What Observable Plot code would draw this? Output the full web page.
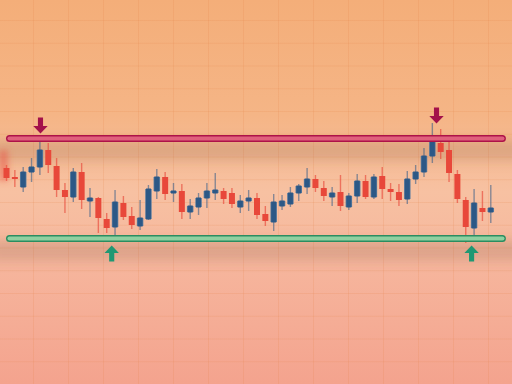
<!DOCTYPE html>
<html><head><meta charset="utf-8">
<script src="https://cdn.jsdelivr.net/npm/d3@7"></script>
<script src="https://cdn.jsdelivr.net/npm/@observablehq/plot@0.6"></script>
<style>
html,body{margin:0;padding:0;background:#f5b487;overflow:hidden;}
#chart svg{display:block;}
</style></head><body><div id="chart"></div>
<script>
// OHLC data (arbitrary price units)
const opens  = [114.0,112.2,110.2,113.2,114.2,117.6,114.4,109.6,108.2,113.2,107.4,108.0,103.8,102.2,107.0,104.4,102.4,103.8,109.4,112.2,109.0,109.4,105.2,106.2,108.0,109.0,109.4,109.0,106.2,107.4,108.0,104.8,103.2,106.4,106.8,109.0,110.2,111.8,110.0,108.2,109.2,106.2,108.4,111.4,108.2,112.4,109.8,109.2,107.8,111.8,113.2,116.4,119.0,117.6,112.8,107.6,102.0,106.0,105.2];
const closes = [112.0,111.8,113.2,114.2,117.6,114.6,109.6,108.2,113.2,107.6,108.0,104.0,102.0,107.2,104.2,102.6,104.0,109.8,112.2,108.8,109.4,105.2,106.4,108.0,109.4,109.6,107.8,106.8,107.4,108.0,104.6,103.4,107.2,107.4,109.0,110.4,111.8,110.0,108.4,109.0,106.4,108.4,111.4,108.2,112.2,109.8,109.2,107.6,111.8,113.2,116.4,119.8,117.2,113.0,107.8,102.2,107.0,105.2,106.0];
const highs  = [114.6,113.6,114.2,116.0,119.2,119.0,116.0,111.0,114.0,115.0,110.0,108.2,105.0,109.6,108.4,106.2,107.6,110.6,113.8,113.2,111.0,110.8,107.8,109.0,111.0,113.0,110.0,110.0,108.6,109.6,109.0,106.4,108.8,108.6,110.2,110.8,114.0,112.6,111.4,110.2,112.6,109.0,112.8,112.6,112.8,114.2,111.0,110.8,113.4,114.6,118.0,123.0,121.8,120.0,113.6,108.2,109.8,109.4,110.6];
const lows   = [111.4,110.2,109.2,111.2,112.6,113.0,108.2,105.0,107.2,105.8,104.2,101.0,101.0,100.6,103.6,101.8,101.6,103.6,107.8,107.6,107.2,103.8,103.8,104.6,106.0,107.6,106.8,106.0,105.0,105.4,103.8,102.4,101.4,105.6,106.2,107.4,108.8,109.2,107.4,106.4,105.4,105.6,107.0,107.8,107.8,107.8,107.4,106.4,106.8,110.8,112.2,115.0,115.8,111.2,107.0,99.0,100.6,103.4,103.0];

// horizontal levels
const levelNames  = ["resistance", "support"];
const levelPrices = [120, 100];
const levelStart = 0.42, levelEnd = 59.45;
const shadowStart = -2, shadowEnd = 62;

// signal arrows (candle index position, price)
const downArrowX = [4.07, 51.5];
const downArrowY = [122.6, 124.6];
const upArrowX = [12.6, 55.7];
const upArrowY = [97.0, 97.0];

const candles = opens.map((o, i) => ({i, open: o, close: closes[i], high: highs[i], low: lows[i]}));
const ups = candles.filter(d => d.close >= d.open);
const downs = candles.filter(d => d.close < d.open);
const levels = levelNames.map((n, k) => ({name: n, price: levelPrices[k], x1: levelStart, x2: levelEnd}));
const shadows = levelPrices.map(p => ({price: p, x1: shadowStart, x2: shadowEnd}));
const downArrows = downArrowX.map((x, k) => ({x, y: downArrowY[k]}));
const upArrows = upArrowX.map((x, k) => ({x, y: upArrowY[k]}));

const BLUE = "#2c5886", RED = "#e8483a";
const RES_FILL = "#e0607c", RES_STROKE = "#ad1249";
const SUP_FILL = "#8fd0a0", SUP_STROKE = "#2a8d61";
const SHADOW = "#7a4a3b", GLOW = "#e8493b";

function arrowSymbol(dir) {
  return {
    draw(ctx, size) {
      const r = Math.sqrt(size / Math.PI);
      const pts = [[-0.32,-1],[0.32,-1],[0.32,0.05],[0.9,0.05],[0,1],[-0.9,0.05],[-0.32,0.05]];
      pts.forEach(([a, b], k) => {
        const px = a * r, py = b * r * dir;
        k ? ctx.lineTo(px, py) : ctx.moveTo(px, py);
      });
      ctx.closePath();
    }
  };
}

const chart = Plot.plot({
  width: 512, height: 384,
  marginTop: 0, marginRight: 0, marginBottom: 0, marginLeft: 0,
  x: {type: "linear", domain: [-0.7186, 60.6], axis: null},
  y: {domain: [70.8, 147.6], axis: null},
  style: {
    backgroundColor: "transparent",
    backgroundImage: [
      "linear-gradient(to right, rgba(226,128,70,0.17) 1px, transparent 1px)",
      "linear-gradient(to bottom, rgba(226,128,70,0.17) 1px, transparent 1px)",
      "linear-gradient(to bottom, #f4ae79 0%, #f5b586 30%, #f7c1a2 50%, #f6b69d 68%, #f4a38e 100%)"
    ].join(","),
    backgroundSize: "35px 100%, 100% 22.75px, 100% 100%",
    backgroundPosition: "33px 0, 0 20px, 0 0"
  },
  marks: [
    // soft shadow under each level line
    Plot.ruleY(shadows, {y: "price", x1: "x1", x2: "x2", stroke: SHADOW, strokeOpacity: 0.2, strokeWidth: 20, dy: 12}),
    // faded glow at the left edge (first candle, blurred)
    Plot.ruleX([candles[0]], {x: "i", y1: "low", y2: d => d.high + 3, stroke: GLOW, strokeOpacity: 0.5, strokeWidth: 9, dx: -3}),
    // wicks
    Plot.ruleX(ups, {x: "i", y1: "low", y2: "high", stroke: BLUE, strokeOpacity: 0.55, strokeWidth: 1.4}),
    Plot.ruleX(downs, {x: "i", y1: "low", y2: "high", stroke: RED, strokeOpacity: 0.65, strokeWidth: 1.4}),
    // bodies
    Plot.ruleX(ups, {x: "i", y1: "open", y2: "close", stroke: "#5f7f9f", strokeWidth: 6.5}),
    Plot.ruleX(ups, {x: "i", y1: "open", y2: "close", stroke: BLUE, strokeWidth: 5, inset: 0.5}),
    Plot.ruleX(downs, {x: "i", y1: "open", y2: "close", stroke: RED, strokeWidth: 6}),
    // level pills (outline then fill)
    Plot.ruleY(levels, {y: "price", x1: "x1", x2: "x2", stroke: d => d.name === "resistance" ? RES_STROKE : SUP_STROKE, strokeWidth: 7, strokeLinecap: "round"}),
    Plot.ruleY(levels, {y: "price", x1: "x1", x2: "x2", stroke: d => d.name === "resistance" ? RES_FILL : SUP_FILL, strokeWidth: 4.2, strokeLinecap: "round"}),
    // arrows
    Plot.dot(downArrows, {x: "x", y: "y", r: 8, symbol: arrowSymbol(1), fill: "#a3114a", stroke: "none"}),
    Plot.dot(upArrows, {x: "x", y: "y", r: 8, symbol: arrowSymbol(-1), fill: "#1f9873", stroke: "none"})
  ],
  color: {type: "identity"}
});
document.getElementById("chart").append(chart);

// SVG blur filters for the shadow and the edge glow
const NS = "http://www.w3.org/2000/svg";
const defs = document.createElementNS(NS, "defs");
[["shadowBlur", 6], ["glowBlur", 3]].forEach(([id, sd]) => {
  const f = document.createElementNS(NS, "filter");
  f.setAttribute("id", id);
  f.setAttribute("filterUnits", "userSpaceOnUse");
  f.setAttribute("x", "-50"); f.setAttribute("y", "-50");
  f.setAttribute("width", "612"); f.setAttribute("height", "484");
  const g = document.createElementNS(NS, "feGaussianBlur");
  g.setAttribute("stdDeviation", sd);
  f.appendChild(g);
  defs.appendChild(f);
});
chart.insertBefore(defs, chart.firstChild);
function applyFilter(color, id) {
  chart.querySelectorAll("*").forEach(el => {
    const s = (el.getAttribute("stroke") || "").toLowerCase();
    if (s === color) el.setAttribute("filter", `url(#${id})`);
  });
}
applyFilter(SHADOW.toLowerCase(), "shadowBlur");
applyFilter(GLOW.toLowerCase(), "glowBlur");
</script>
</body></html>
